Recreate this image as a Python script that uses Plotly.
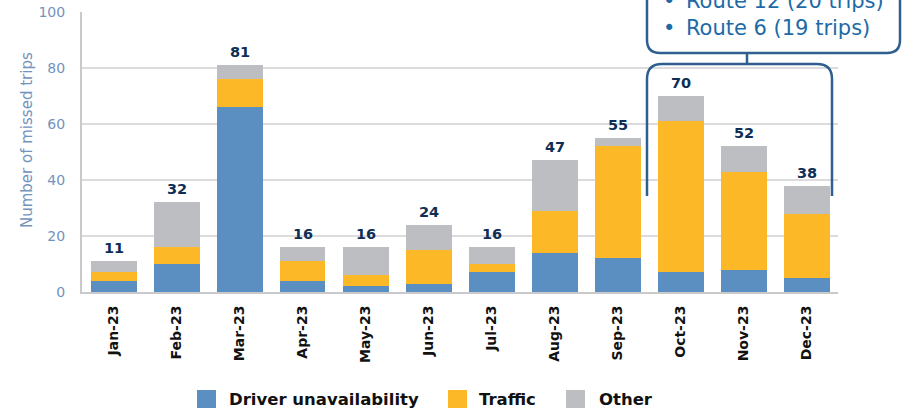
import plotly.graph_objects as go

months = ["Jan-23", "Feb-23", "Mar-23", "Apr-23", "May-23", "Jun-23",
          "Jul-23", "Aug-23", "Sep-23", "Oct-23", "Nov-23", "Dec-23"]
driver = [4, 10, 66, 4, 2, 3, 7, 14, 12, 7, 8, 5]
traffic = [3, 6, 10, 7, 4, 12, 3, 15, 40, 54, 35, 23]
other = [4, 16, 5, 5, 10, 9, 6, 18, 3, 9, 9, 10]
totals = [11, 32, 81, 16, 16, 24, 16, 47, 55, 70, 52, 38]
series_names = ["Driver unavailability", "Traffic", "Other"]
callout_lines = ["Route 12 (20 trips)", "Route 6 (19 trips)"]
y_ticks = [0, 20, 40, 60, 80, 100]

colors = ["#5b8fc2", "#fdb827", "#bdbec2"]
NAVY = "#0e2e55"
AXIS_BLUE = "#7393bd"
CALLOUT_TEXT = "#1d6aa6"
CALLOUT_LINE = "#2e5f8e"
FONT = "DejaVu Sans"

W, H = 902, 410
ML, MR, MT, MB = 82, 64, 12, 118
PW = W - ML - MR
PH = H - MT - MB


def px(x):
    return (x - ML) / PW


def py(y):
    return (H - MB - y) / PH


fig = go.Figure()
for name, vals, col in zip(series_names, [driver, traffic, other], colors):
    fig.add_trace(go.Bar(x=months, y=vals, name=name, marker=dict(color=col, line=dict(width=0)),
                         showlegend=False, hoverinfo="skip"))

shapes = []
annotations = []

# Total labels above stacks
for m, t in zip(months, totals):
    annotations.append(dict(x=m, y=t, xref="x", yref="y", text=str(t), showarrow=False,
                            xanchor="center", yanchor="bottom", yshift=3,
                            font=dict(family=FONT, size=14.5, color=NAVY, weight="bold")))

# Callout box (extends past top edge)
L, R, B, T, r = 647, 900, 53, -40, 13
path = (f"M {px(L)},{py(T)} L {px(L)},{py(B - r)} Q {px(L)},{py(B)} {px(L + r)},{py(B)} "
        f"L {px(R - r)},{py(B)} Q {px(R)},{py(B)} {px(R)},{py(B - r)} L {px(R)},{py(T)}")
shapes.append(dict(type="path", xref="paper", yref="paper", path=path,
                   line=dict(color=CALLOUT_LINE, width=2.5), fillcolor="rgba(0,0,0,0)"))
# connector
shapes.append(dict(type="line", xref="paper", yref="paper", x0=px(747), x1=px(747), y0=py(53), y1=py(64),
                   line=dict(color=CALLOUT_LINE, width=2.5)))
# bracket
bl, br, bt, bb, rr = 647, 832, 64, 196, 15
bpath = (f"M {px(bl)},{py(bb)} L {px(bl)},{py(bt + rr)} Q {px(bl)},{py(bt)} {px(bl + rr)},{py(bt)} "
         f"L {px(br - rr)},{py(bt)} Q {px(br)},{py(bt)} {px(br)},{py(bt + rr)} L {px(br)},{py(bb)}")
shapes.append(dict(type="path", xref="paper", yref="paper", path=bpath,
                   line=dict(color=CALLOUT_LINE, width=2.5), fillcolor="rgba(0,0,0,0)"))

for i, line in enumerate(callout_lines):
    annotations.append(dict(xref="paper", yref="paper", x=px(661), y=py(1.5 + 26 * i),
                            xanchor="left", yanchor="middle", showarrow=False,
                            text="\u2022\u2002" + line,
                            font=dict(family=FONT, size=21, color=CALLOUT_TEXT)))

# Y axis title
annotations.append(dict(xref="paper", yref="paper", x=px(27), y=py(140), textangle=-90,
                        xanchor="center", yanchor="middle", showarrow=False,
                        text="Number of missed trips",
                        font=dict(family=FONT, size=15, color=AXIS_BLUE)))

# Legend (manual)
legend_sq = [197, 448, 566]
legend_tx = [227, 477, 597]
for name, col, sx, tx in zip(series_names, colors, legend_sq, legend_tx):
    shapes.append(dict(type="rect", xref="paper", yref="paper", x0=px(sx), x1=px(sx + 19),
                       y0=py(408), y1=py(390), fillcolor=col, line=dict(width=0)))
    annotations.append(dict(xref="paper", yref="paper", x=px(tx), y=py(399), xanchor="left",
                            yanchor="middle", showarrow=False, text=name,
                            font=dict(family=FONT, size=16.5, color="#111111", weight="bold")))

fig.update_layout(
    width=W, height=H, barmode="stack", bargap=0.27,
    margin=dict(l=ML, r=MR, t=MT, b=MB, autoexpand=False),
    plot_bgcolor="white", paper_bgcolor="white",
    showlegend=False, shapes=shapes, annotations=annotations,
    xaxis=dict(type="category", range=[-0.5, len(months) - 0.5], tickangle=-90, showgrid=False,
               showline=True, automargin=False,
               linecolor="#c9c9cc", linewidth=2, ticks="", ticklabelstandoff=6,
               tickfont=dict(family=FONT, size=14, color="#111111", weight="bold")),
    yaxis=dict(range=[0, 100], tickvals=y_ticks, showgrid=True, gridcolor="#dcdcdf", gridwidth=1.5,
               showline=True, linecolor="#c9c9cc", linewidth=2, zeroline=False, ticks="",
               ticklabelstandoff=12, automargin=False,
               tickfont=dict(family=FONT, size=14, color=AXIS_BLUE)),
)

fig.write_html("out.html", config={"displayModeBar": False},
               post_script="document.body.style.margin='0';document.body.style.overflow='hidden';")
